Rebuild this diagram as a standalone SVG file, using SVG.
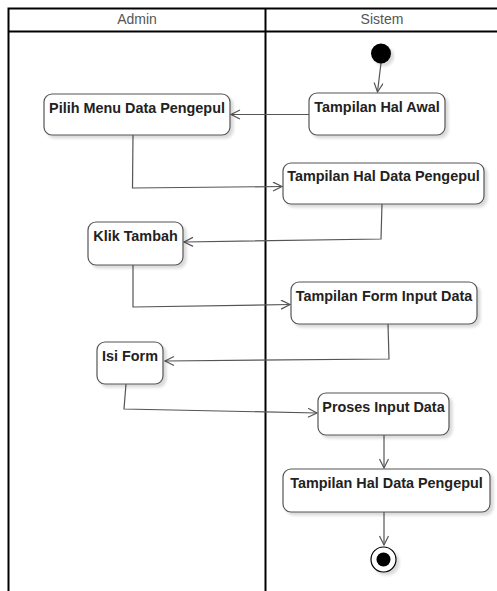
<svg xmlns="http://www.w3.org/2000/svg" width="497" height="591" viewBox="0 0 497 591">
<style>
.lane{fill:none;stroke:#000;stroke-width:2}
.hdr{font-family:"Liberation Sans",Arial,sans-serif;font-size:14px;fill:#555;text-anchor:middle}
.box{fill:#fff;stroke:#555;stroke-width:1.2;filter:url(#sh)}
.lbl{font-family:"Liberation Sans",Arial,sans-serif;font-size:14.4px;font-weight:bold;fill:#222;text-anchor:middle}
.edge{fill:none;stroke:#555;stroke-width:1.2;marker-end:url(#arr)}
</style>
<defs>
<filter id="sh" x="-20%" y="-20%" width="140%" height="160%">
<feGaussianBlur in="SourceAlpha" stdDeviation="1.5"/>
<feOffset dx="3" dy="3" result="o"/>
<feComponentTransfer><feFuncA type="linear" slope="0.15"/></feComponentTransfer>
<feMerge><feMergeNode/><feMergeNode in="SourceGraphic"/></feMerge>
</filter>
<marker id="arr" markerWidth="12" markerHeight="12" refX="10" refY="5" orient="auto" markerUnits="userSpaceOnUse">
<path d="M1,0.5 L10,5 L1,9.5" fill="none" stroke="#555" stroke-width="1.2"/>
</marker>
</defs>
<rect width="497" height="591" fill="#fff"/>
<g id="pool">
<path class="lane" d="M8.5,600 L8.5,8.5 L505,8.5 M8.5,31.5 L505,31.5 M265.5,8.5 L265.5,600"/>
<text class="hdr" x="137" y="24">Admin</text>
<text class="hdr" x="382" y="24">Sistem</text>
</g>
<g id="edges">
<path class="edge" d="M381,63 L377.5,92"/>
<path class="edge" d="M309,114.5 L231,114.5"/>
<path class="edge" d="M133,135 L132.5,188 L282,186.5"/>
<path class="edge" d="M382,204 L381,239 L184,242"/>
<path class="edge" d="M133,265 L133,307 L290,304.5"/>
<path class="edge" d="M388,324 L389,359 L165,361"/>
<path class="edge" d="M126,384 L124,409 L317,413"/>
<path class="edge" d="M384,435 L384,468"/>
<path class="edge" d="M384,512 L384,545"/>
</g>
<g id="start"><circle cx="381" cy="53.5" r="10" fill="#000" filter="url(#sh)"/></g>
<g id="n1"><rect class="box" x="44" y="94" width="186" height="41" rx="8"/><text class="lbl" x="137" y="112.5">Pilih Menu Data Pengepul</text></g>
<g id="n2"><rect class="box" x="309" y="93" width="136" height="42" rx="8"/><text class="lbl" x="377" y="111.5">Tampilan Hal Awal</text></g>
<g id="n3"><rect class="box" x="283" y="163" width="201" height="41" rx="8"/><text class="lbl" x="383.5" y="181">Tampilan Hal Data Pengepul</text></g>
<g id="n4"><rect class="box" x="88" y="222" width="95" height="43" rx="8"/><text class="lbl" x="135.5" y="240.5">Klik Tambah</text></g>
<g id="n5"><rect class="box" x="291" y="282" width="186" height="42" rx="8"/><text class="lbl" x="384" y="300.5">Tampilan Form Input Data</text></g>
<g id="n6"><rect class="box" x="97" y="342" width="66" height="42" rx="8"/><text class="lbl" x="130" y="360.5">Isi Form</text></g>
<g id="n7"><rect class="box" x="318" y="393" width="131" height="42" rx="8"/><text class="lbl" x="383.5" y="411.5">Proses Input Data</text></g>
<g id="n8"><rect class="box" x="283" y="469" width="207" height="43" rx="8"/><text class="lbl" x="386.5" y="487.5">Tampilan Hal Data Pengepul</text></g>
<g id="end"><circle cx="383.5" cy="559.5" r="12.5" fill="#fff" stroke="#000" stroke-width="1.2" filter="url(#sh)"/><circle cx="383.5" cy="559.5" r="7" fill="#000"/></g>
</svg>
